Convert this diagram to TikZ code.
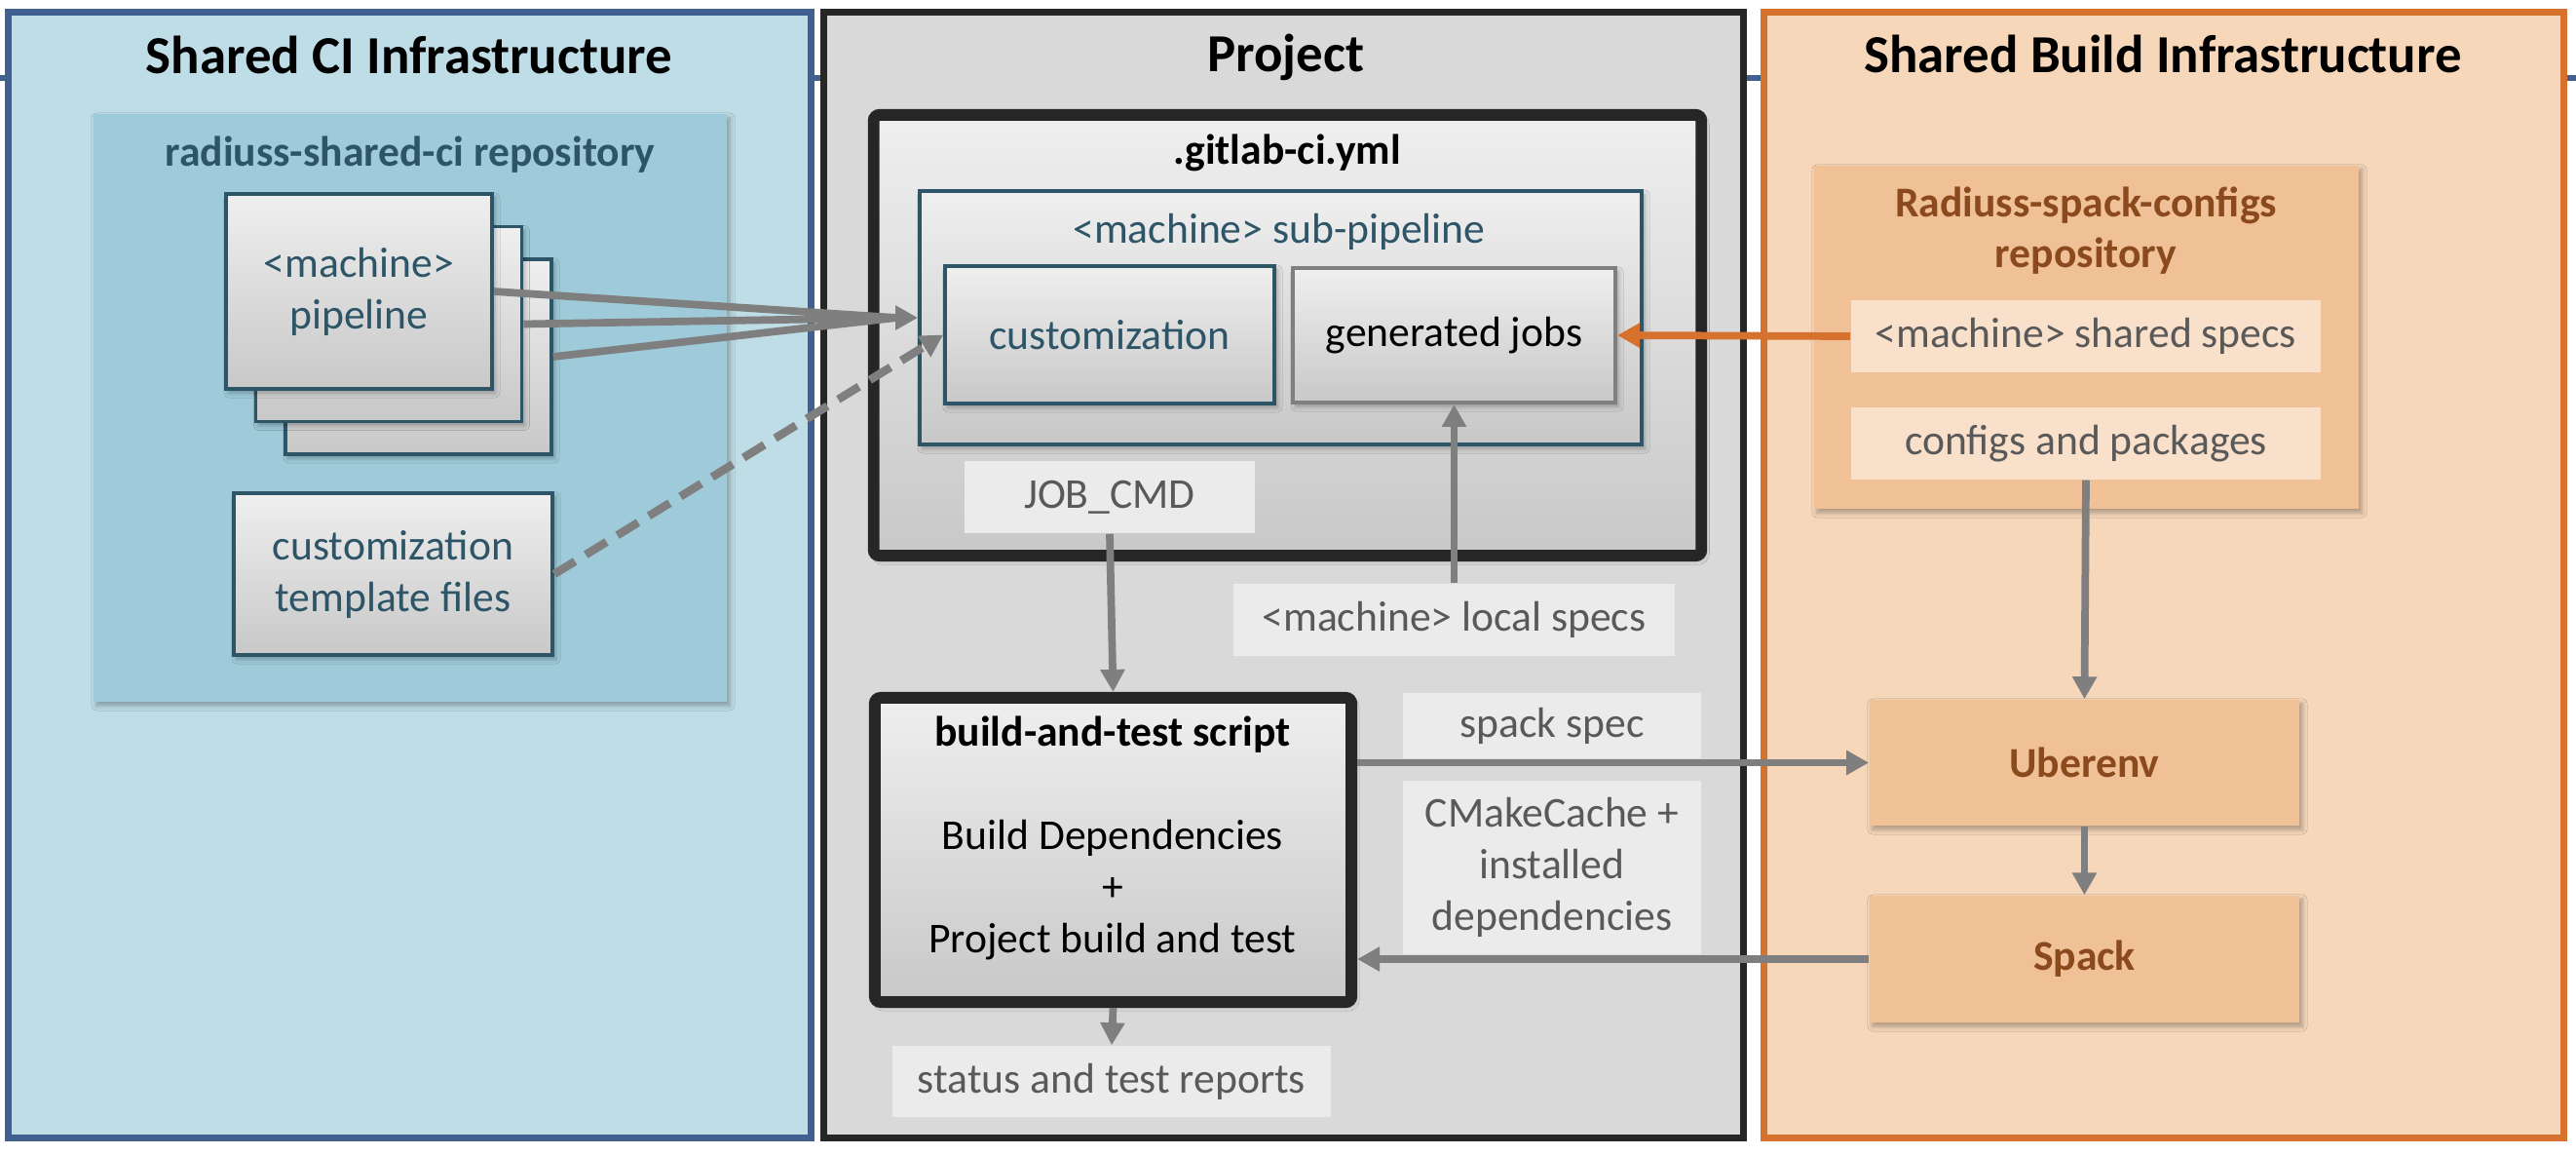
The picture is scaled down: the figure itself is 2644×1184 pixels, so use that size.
\documentclass[tikz,border=0pt]{standalone}
\usepackage{fontspec}
\setmainfont{Carlito}
\usetikzlibrary{arrows.meta,shadows.blur,calc}
\definecolor{lbfill}{HTML}{BFDDE6}
\definecolor{lbborder}{HTML}{41608F}
\definecolor{lrepo}{HTML}{9ECAD9}
\definecolor{tealc}{HTML}{2E5567}
\definecolor{midfill}{HTML}{D9D9D9}
\definecolor{darkc}{HTML}{262626}
\definecolor{rfill}{HTML}{F6D7B9}
\definecolor{rborder}{HTML}{D7712E}
\definecolor{rboxc}{HTML}{F0C197}
\definecolor{brownc}{HTML}{8A4A1D}
\definecolor{lblmid}{HTML}{EBEBEB}
\definecolor{lblr}{HTML}{F8E0CB}
\definecolor{lbltext}{HTML}{595959}
\definecolor{agray}{HTML}{7F7F7F}
\definecolor{gtop}{HTML}{EFEFEF}
\definecolor{gbot}{HTML}{C8C8C8}
\begin{document}
\begin{tikzpicture}[x=0.01cm,y=-0.01cm,
  shad/.style={blur shadow={shadow xshift=0.03cm, shadow yshift=-0.04cm, shadow blur radius=0.05cm, shadow opacity=30}},
  panel/.style={rectangle, line width=2pt, inner sep=0pt},
  ttl/.style={font=\fontsize{15.6}{19}\selectfont\bfseries, anchor=base, inner sep=0pt},
  txt/.style={font=\fontsize{12.4}{15.1}\selectfont, align=center, inner sep=0pt},
  boldtxt/.style={font=\fontsize{12.4}{15.1}\selectfont\bfseries, align=center, inner sep=0pt},
  gradbox/.style={rectangle, top color=gtop, bottom color=gbot, inner sep=0pt, shad},
  pipebox/.style={gradbox, draw=tealc, line width=1pt, txt, text=tealc},
  bigbox/.style={gradbox, draw=darkc, line width=3.4pt, rounded corners=0.06cm},
  lbl/.style={rectangle, txt, text=lbltext},
  rbox/.style={rectangle, fill=rboxc, inner sep=0pt, shad, boldtxt, text=brownc},
  gline/.style={draw=agray, line width=2.2pt},
  garrow/.style={gline, -{Triangle[length=0.23cm,width=0.24cm]}},
  oarrow/.style={draw=rborder, line width=2.2pt, -{Triangle[length=0.23cm,width=0.24cm]}}
]
\useasboundingbox (0,0) rectangle (2644,1184);
\fill[white] (0,0) rectangle (2644,1184);
\draw[lbborder, line width=1.8pt] (0,80) -- (2644,80);

% panels
\node[panel, draw=lbborder, fill=lbfill, minimum width=8.23cm, minimum height=11.54cm] (cipanel) at (420.5,590) {};
\node[panel, draw=darkc, fill=midfill, minimum width=9.43cm, minimum height=11.54cm] (projpanel) at (1317.5,590) {};
\node[panel, draw=rborder, fill=rfill, minimum width=8.20cm, minimum height=11.54cm] (bpanel) at (2221,590) {};

\node[ttl] (t1) at (420,75) {Shared CI Infrastructure};
\node[ttl] (t2) at (1320,73) {Project};
\node[ttl] (t3) at (2220,74) {Shared Build Infrastructure};

% left repository
\node[rectangle, fill=lrepo, inner sep=0pt, minimum width=6.5cm, minimum height=6.03cm, shad] (cirepo) at (421,418.5) {};
\node[boldtxt, text=tealc, anchor=base] (cirepot) at (421,170) {radiuss-shared-ci repository};
\node[pipebox, minimum width=2.73cm, minimum height=2cm] (p3) at (429.5,366) {};
\node[pipebox, minimum width=2.73cm, minimum height=2cm] (p2) at (399,332.5) {};
\node[pipebox, minimum width=2.73cm, minimum height=2cm] (p1) at (368.5,299) {<machine>\\pipeline};
\node[pipebox, minimum width=3.27cm, minimum height=1.66cm] (tmpl) at (403.5,589) {customization\\template files};

% project
\node[bigbox, minimum width=8.49cm, minimum height=4.52cm] (gitlab) at (1321.5,344) {};
\node[boldtxt, anchor=base] (gitlabt) at (1321,168) {.gitlab-ci.yml};
\node[pipebox, minimum width=7.41cm, minimum height=2.6cm] (sub) at (1314.5,326) {};
\node[txt, text=tealc, anchor=base] (subt) at (1313,249) {<machine> sub-pipeline};
\node[pipebox, minimum width=3.38cm, minimum height=1.41cm] (cust) at (1139,343.5) {customization};
\node[gradbox, draw=agray, line width=1.1pt, txt, minimum width=3.31cm, minimum height=1.38cm] (gen) at (1492.5,344) {generated jobs};
\node[lbl, fill=lblmid, minimum width=2.98cm, minimum height=0.74cm] (jobcmd) at (1139,510) {JOB\_CMD};
\node[lbl, fill=lblmid, minimum width=4.53cm, minimum height=0.74cm] (local) at (1492.5,636) {<machine> local specs};
\node[bigbox, minimum width=4.89cm, minimum height=3.12cm] (build) at (1142.5,872) {};
\node[txt] (buildt) at (1142,860) {\textbf{build-and-test script}\\[15.1pt]Build Dependencies\\+\\Project build and test};
\node[lbl, fill=lblmid, minimum width=4.5cm, minimum height=0.73cm] (status) at (1141,1109.5) {status and test reports};
\node[lbl, fill=lblmid, minimum width=3.06cm, minimum height=0.67cm] (sspec) at (1593,744.5) {spack spec};
\node[lbl, fill=lblmid, minimum width=3.06cm, minimum height=1.78cm] (cmake) at (1593,890) {CMakeCache +\\installed\\dependencies};

% build infrastructure
\node[rectangle, fill=rboxc, inner sep=0pt, minimum width=5.59cm, minimum height=3.52cm, shad] (brepo) at (2141.5,346) {};
\node[boldtxt, text=brownc, anchor=base] (brepot1) at (2141,222) {Radiuss-spack-configs};
\node[boldtxt, text=brownc, anchor=base] (brepot2) at (2141,274) {repository};
\node[lbl, fill=lblr, minimum width=4.82cm, minimum height=0.74cm] (shspecs) at (2141,345) {<machine> shared specs};
\node[lbl, fill=lblr, minimum width=4.82cm, minimum height=0.74cm] (cfg) at (2141,455) {configs and packages};
\node[rbox, minimum width=4.41cm, minimum height=1.29cm] (uber) at (2139.5,782.5) {Uberenv};
\node[rbox, minimum width=4.41cm, minimum height=1.30cm] (spack) at (2139.5,984) {Spack};

% connectors
\coordinate (conv) at ($(sub.west)+(-22,0)$);
\draw[gline] (p1.east) -- (conv);
\draw[gline] (p2.east) -- (conv);
\draw[gline] (p3.east) -- (conv);
\draw[garrow] (conv) -- (sub.west);
\draw[garrow, line width=2.4pt, dash pattern=on 0.25cm off 0.13cm] (tmpl.east) -- (cust.west);
\draw[oarrow] (shspecs.west) -- (gen.east);
\draw[garrow] (jobcmd.south) -- (build.north);
\draw[garrow] (local.north) -- (gen.south);
\draw[garrow] (build.south) -- (status.north);
\draw[garrow] (build.east |- uber.west) -- (uber.west);
\draw[garrow] (spack.west) -- (build.east |- spack.west);
\draw[garrow] (cfg.south) -- (uber.north);
\draw[garrow] (uber.south) -- (spack.north);
\end{tikzpicture}
\end{document}
